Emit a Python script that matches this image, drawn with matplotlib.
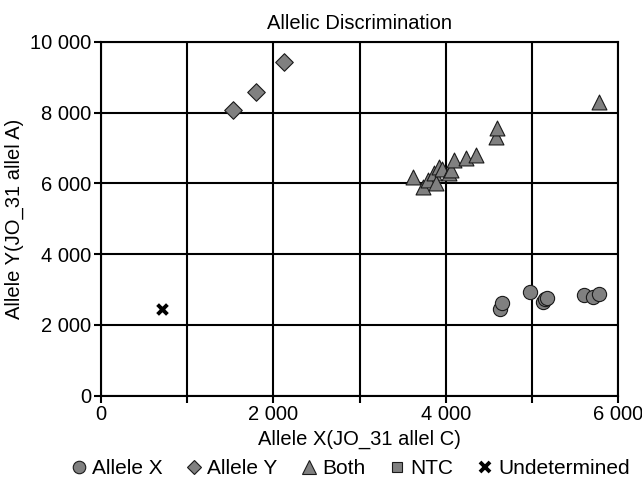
import matplotlib
matplotlib.use("Agg")
import matplotlib.pyplot as plt
from matplotlib.ticker import FuncFormatter, MultipleLocator
from matplotlib.lines import Line2D

plt.rcParams['font.family'] = ['Liberation Sans', 'DejaVu Sans']

allele_x_x = [4634, 4653, 4983, 5130, 5149, 5175, 5602, 5706, 5784]
allele_x_y = [2447, 2608, 2919, 2636, 2721, 2750, 2834, 2796, 2862]

allele_y_x = [1529, 1797, 2118]
allele_y_y = [8068, 8594, 9426]

both_x = [3619, 3735, 3800, 3860, 3891, 3918, 3960, 4040, 4065, 4091, 4239, 4347, 4580, 4595, 5784]
both_y = [6172, 5907, 6100, 6285, 6020, 6472, 6399, 6303, 6379, 6662, 6710, 6803, 7300, 7560, 8300]

ntc_x = []
ntc_y = []

undet_x = [705]
undet_y = [2438]

fig = plt.figure(figsize=(6.42, 4.91), dpi=100)
ax = fig.add_axes([101/642, 1-395.5/491, 517/642, 353.5/491])

fill = '#808080'
edge = '#1a1a1a'
ax.scatter(allele_x_x, allele_x_y, marker='o', s=105, facecolor=fill, edgecolor=edge, linewidth=0.8, zorder=3)
ax.scatter(allele_y_x, allele_y_y, marker='D', s=80, facecolor=fill, edgecolor=edge, linewidth=0.8, zorder=3)
ax.scatter(both_x, both_y, marker='^', s=115, facecolor=fill, edgecolor=edge, linewidth=0.8, zorder=3)
ax.scatter(ntc_x, ntc_y, marker='s', s=60, facecolor=fill, edgecolor=edge, linewidth=0.8, zorder=3)
ax.scatter(undet_x, undet_y, marker='x', s=50, color='black', linewidth=2.8, zorder=3)

ax.set_xlim(0, 6000)
ax.set_ylim(0, 10000)
ax.xaxis.set_major_locator(MultipleLocator(2000))
ax.xaxis.set_minor_locator(MultipleLocator(1000))
ax.yaxis.set_major_locator(MultipleLocator(2000))
fmt = FuncFormatter(lambda v, p: f"{int(v):,}".replace(',', ' '))
ax.xaxis.set_major_formatter(fmt)
ax.yaxis.set_major_formatter(fmt)
ax.grid(True, which='both', axis='x', color='black', linewidth=1.5)
ax.grid(True, which='major', axis='y', color='black', linewidth=1.5)
ax.set_axisbelow(True)
for s in ax.spines.values():
    s.set_linewidth(1.5)
    s.set_color('black')
ax.tick_params(which='major', length=5, width=1.5, labelsize=14.5, pad=2)
ax.tick_params(which='minor', length=5, width=1.5)

ax.set_title('Allelic Discrimination', fontsize=14.5, pad=9)
ax.set_xlabel('Allele X(JO_31 allel C)', fontsize=14.5, labelpad=4)
ax.set_ylabel('Allele Y(JO_31 allel A)', fontsize=14.5, labelpad=4)

handles = [
    Line2D([], [], marker='o', linestyle='none', markersize=9, markerfacecolor=fill, markeredgecolor=edge, markeredgewidth=0.8),
    Line2D([], [], marker='D', linestyle='none', markersize=7, markerfacecolor=fill, markeredgecolor=edge, markeredgewidth=0.8),
    Line2D([], [], marker='^', linestyle='none', markersize=10, markerfacecolor=fill, markeredgecolor=edge, markeredgewidth=0.8),
    Line2D([], [], marker='s', linestyle='none', markersize=7.5, markerfacecolor=fill, markeredgecolor=edge, markeredgewidth=0.8),
    Line2D([], [], marker='x', linestyle='none', markersize=7, color='black', markeredgewidth=2.8),
]
labels = ['Allele X', 'Allele Y', 'Both', 'NTC', 'Undetermined']
fig.legend(handles, labels, loc='center', bbox_to_anchor=(348/642, 1-469/491), ncol=5, frameon=False,
           fontsize=15, handletextpad=0.05, columnspacing=0.9, handlelength=1.2)

fig.savefig('out.png', dpi=100)
